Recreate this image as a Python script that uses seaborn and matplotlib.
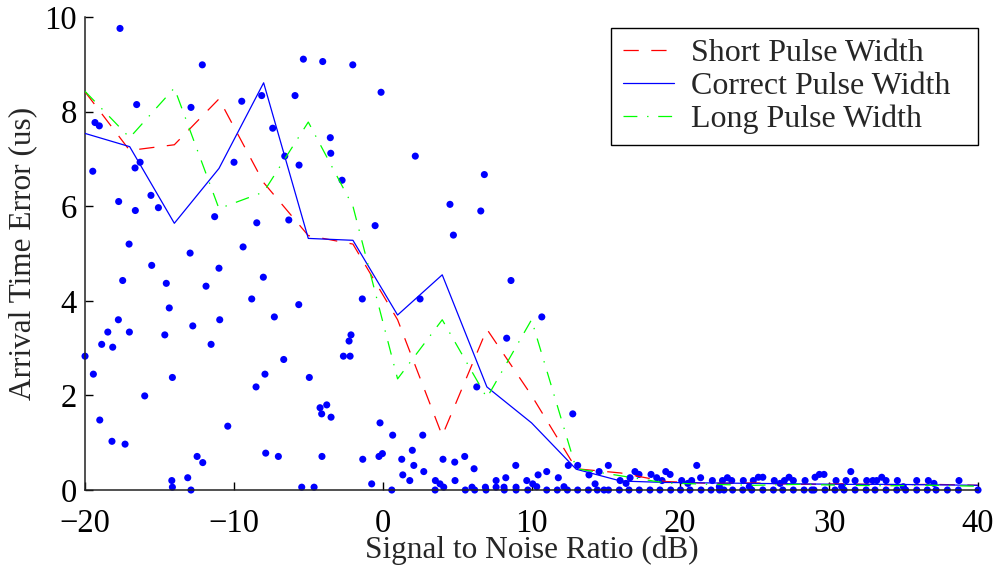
import numpy as np
import pandas as pd
import matplotlib
matplotlib.use("Agg")
import matplotlib.pyplot as plt
import seaborn as sns

# ---- line series (SNR in dB, arrival-time error in us) ----
snr = [-20, -17, -14, -11, -8, -5, -2, 1, 4, 7, 10, 13, 16, 19, 22, 25, 28, 31, 34, 37, 40]
short_pw = [8.42, 7.18, 7.30, 8.27, 6.50, 5.38, 5.20, 3.60, 1.15, 3.40, 2.00, 0.45, 0.36, 0.18,
            0.14, 0.15, 0.12, 0.13, 0.11, 0.12, 0.10]
correct_pw = [7.54, 7.26, 5.64, 6.80, 8.61, 5.32, 5.28, 3.70, 4.55, 2.18, 1.42, 0.44, 0.19, 0.16,
              0.15, 0.14, 0.13, 0.12, 0.12, 0.11, 0.10]
long_pw = [8.43, 7.45, 8.50, 5.95, 6.30, 7.78, 6.00, 2.35, 3.60, 1.95, 3.60, 0.45, 0.30, 0.15,
           0.12, 0.10, 0.12, 0.10, 0.09, 0.10, 0.08]

# ---- individual trial errors (scatter) ----
trial_snr = [
    -17.65, -12.12, -5.33, -16.53, -12.88, -9.47, -8.13, -5.89, -19.33, -19.04, -7.39, -16.30,
    -16.64, -19.48, -9.99, -6.58, -5.62, -15.57, -17.74, -15.07, -16.62, -11.29, -8.46, -6.31,
    -17.04, -12.94, -9.38, -15.52, -11.00, -17.47, -14.54, -11.87, -8.02, -8.80, -5.64, -14.34,
    -17.76, -10.95, -7.28, -18.47, -17.02, -12.76, -14.64, -18.88, -18.14, -11.53, -20.00, -6.65,
    -19.44, -14.13, -7.91, -8.51, -4.93, -15.99, -19.01, -10.41, -18.19, -17.31, -12.47, -12.09,
    -7.86, -7.01, -14.17, -13.10, -14.13, -12.88, -5.44,
    -4.03, -2.01, -0.11, -3.52, -3.49, -2.73, 2.19, 6.83, 4.52, 6.59, -0.51, 4.75,
    -1.37, 2.51, 8.62, -2.13, -2.26, -2.64, -2.19, 8.33, 6.32, -4.21, -3.76, -4.10, -3.47,
    -0.18, 0.67, 2.69, -4.08, -1.34, -0.25, -0.02, 1.99, 1.28, 2.09, 4.05, 4.84, 5.51, 6.14,
    8.94, 1.35, 1.82, 2.76, 3.54, 3.85, 4.10, 4.86, 7.62, 8.27, 9.68, -4.61, -0.74, 0.61,
    3.52, 5.55, 6.00, 6.18, 6.90, 6.94, 7.62, 8.15, 8.17, 8.96, 8.96, 9.75,
    10.08, 10.35, 10.44, 11.02, 11.02, 11.73, 11.80, 12.18, 12.41, 12.47, 13.10, 13.10, 13.82,
    13.86, 14.27, 14.42, 14.54, 14.87, 10.69, 12.77,
    15.16, 15.17, 15.95, 16.35, 16.62, 16.95, 17.22, 18.03, 18.41, 18.77, 19.02, 19.31, 20.09,
    20.50, 20.76, 21.10, 21.36, 22.15, 22.62, 22.83, 23.16, 23.45, 24.23,
    15.90, 16.55, 17.24, 17.96, 18.63, 19.35, 20.01, 20.65, 21.39, 22.06, 22.63, 22.93, 23.51,
    24.19,
    24.63, 24.90, 25.24, 25.54, 26.31, 26.70, 26.99, 27.30, 27.59, 28.38, 29.05, 29.34, 29.65,
    30.46, 30.84, 31.13, 31.45, 31.74, 32.52, 32.93, 33.19, 33.53, 33.82, 34.58, 34.98, 35.88,
    36.66, 37.04, 38.72,
    24.80, 25.54, 26.25, 26.88, 27.59, 28.31, 28.83, 28.98, 29.72, 30.39, 31.00, 31.74, 32.48,
    33.08, 33.82, 34.54, 35.14, 35.88, 36.59, 37.18, 37.94, 38.68, 40.00,
]
trial_err = [
    9.76, 8.99, 9.11, 8.15, 8.09, 8.22, 8.34, 8.34, 7.77, 7.70, 7.65, 6.93,
    6.81, 6.74, 6.93, 7.06, 6.87, 6.23, 6.10, 5.97, 5.91, 5.78, 5.65, 5.71,
    5.20, 5.01, 5.14, 4.75, 4.69, 4.43, 4.37, 4.31, 4.50, 4.04, 3.92, 3.85,
    3.60, 3.60, 3.66, 3.34, 3.34, 3.47, 3.28, 3.08, 3.02, 3.08, 2.83, 2.76,
    2.45, 2.38, 2.45, 2.18, 2.38, 1.99, 1.48, 1.35, 1.03, 0.97, 0.71, 0.58,
    0.78, 0.71, 0.20, 0.26, 0.06, 0.00, 0.06,
    9.06, 8.99, 8.41, 7.45, 7.12, 6.55, 7.06, 6.67, 6.04, 5.90, 5.59, 5.39,
    4.04, 4.04, 4.43, 3.28, 3.15, 2.83, 2.83, 3.21, 2.18, 1.74, 1.80, 1.61, 1.54,
    1.42, 1.16, 1.16, 0.71, 0.65, 0.71, 0.77, 0.84, 0.65, 0.52, 0.65, 0.59, 0.71, 0.45,
    0.52, 0.32, 0.20, 0.39, 0.20, 0.13, 0.06, 0.20, 0.20, 0.26, 0.20, 0.06, 0.13, 0.00,
    0.00, 0.00, 0.06, 0.00, 0.06, 0.00, 0.06, 0.06, 0.00, 0.06, 0.00, 0.00,
    0.13, 0.07, 0.32, 0.39, 0.00, 0.00, 0.26, 0.07, 0.00, 0.52, 0.52, 0.00, 0.00,
    0.32, 0.13, 0.00, 0.39, 0.00, 3.66, 1.61,
    0.52, 0.00, 0.20, 0.14, 0.26, 0.39, 0.33, 0.33, 0.26, 0.20, 0.39, 0.33, 0.20,
    0.14, 0.20, 0.52, 0.26, 0.20, 0.07, 0.20, 0.26, 0.20, 0.20,
    0.00, 0.00, 0.00, 0.00, 0.00, 0.00, 0.00, 0.00, 0.00, 0.00, 0.00, 0.00, 0.00,
    0.00,
    0.07, 0.20, 0.27, 0.27, 0.20, 0.14, 0.20, 0.27, 0.20, 0.20, 0.27, 0.33, 0.33,
    0.20, 0.07, 0.20, 0.39, 0.20, 0.20, 0.20, 0.20, 0.27, 0.20, 0.20, 0.07, 0.20,
    0.20, 0.14, 0.20,
    0.00, 0.00, 0.00, 0.00, 0.00, 0.00, 0.00, 0.00, 0.00, 0.00, 0.00, 0.00, 0.00,
    0.00, 0.00, 0.00, 0.00, 0.00, 0.00, 0.00, 0.00, 0.00, 0.00,
]

x_ticks = [-20, -10, 0, 10, 20, 30, 40]
y_ticks = [0, 2, 4, 6, 8, 10]
labels = ["Short Pulse Width", "Correct Pulse Width", "Long Pulse Width"]

sns.set_style("ticks")
plt.rcParams["font.family"] = ["Liberation Serif", "DejaVu Serif"]
plt.rcParams["lines.scale_dashes"] = False
plt.rcParams["axes.unicode_minus"] = True

fig = plt.figure(figsize=(9.98, 5.69), dpi=100)
ax = fig.add_axes([0.0852, 0.1388, 0.8948, 0.8312])

lines_df = pd.DataFrame({"snr": snr, "short": short_pw, "correct": correct_pw, "long": long_pw})
scatter_df = pd.DataFrame({"snr": trial_snr, "err": trial_err})

sns.scatterplot(data=scatter_df, x="snr", y="err", ax=ax, color="#0000ff", s=26,
                edgecolor="none", linewidth=0, zorder=2, clip_on=False, legend=False)

sns.lineplot(data=lines_df, x="snr", y="short", ax=ax, color="#ff0000", linewidth=0.9,
             linestyle=(0, (11, 9)), label=labels[0], zorder=3)
sns.lineplot(data=lines_df, x="snr", y="correct", ax=ax, color="#0000ff", linewidth=0.9,
             linestyle="-", label=labels[1], zorder=3)
sns.lineplot(data=lines_df, x="snr", y="long", ax=ax, color="#00ff00", linewidth=0.9,
             linestyle=(0, (10, 7, 1, 7)), label=labels[2], zorder=3)

ax.set_xlim(-20, 40)
ax.set_ylim(0, 10)
ax.set_xticks(x_ticks)
ax.set_yticks(y_ticks)
ax.tick_params(direction="in", length=6, width=1, labelsize=23.5, colors="black")
ax.tick_params(axis="x", pad=13)
ax.tick_params(axis="y", pad=6)
for lab in ax.get_yticklabels():
    lab.set_verticalalignment("center_baseline")
for side in ["top", "right"]:
    ax.spines[side].set_visible(False)
for side in ["left", "bottom"]:
    ax.spines[side].set_linewidth(1.1)
    ax.spines[side].set_color("#222222")

ax.set_xlabel("Signal to Noise Ratio (dB)", fontsize=22.5, labelpad=-2)
ax.set_ylabel("Arrival Time Error (us)", fontsize=22.5, labelpad=5)

handles, _ = ax.get_legend_handles_labels()
leg = ax.legend(handles, [lab + "  " for lab in labels], loc="upper right",
                bbox_to_anchor=(1.0, 0.977), borderaxespad=0,
                fontsize=23, frameon=True, fancybox=False, edgecolor="black", framealpha=1,
                handlelength=1.6, borderpad=0.35, labelspacing=0.1, handletextpad=0.55)
leg.get_frame().set_linewidth(1.0)

fig.savefig("out.png", dpi=100)
